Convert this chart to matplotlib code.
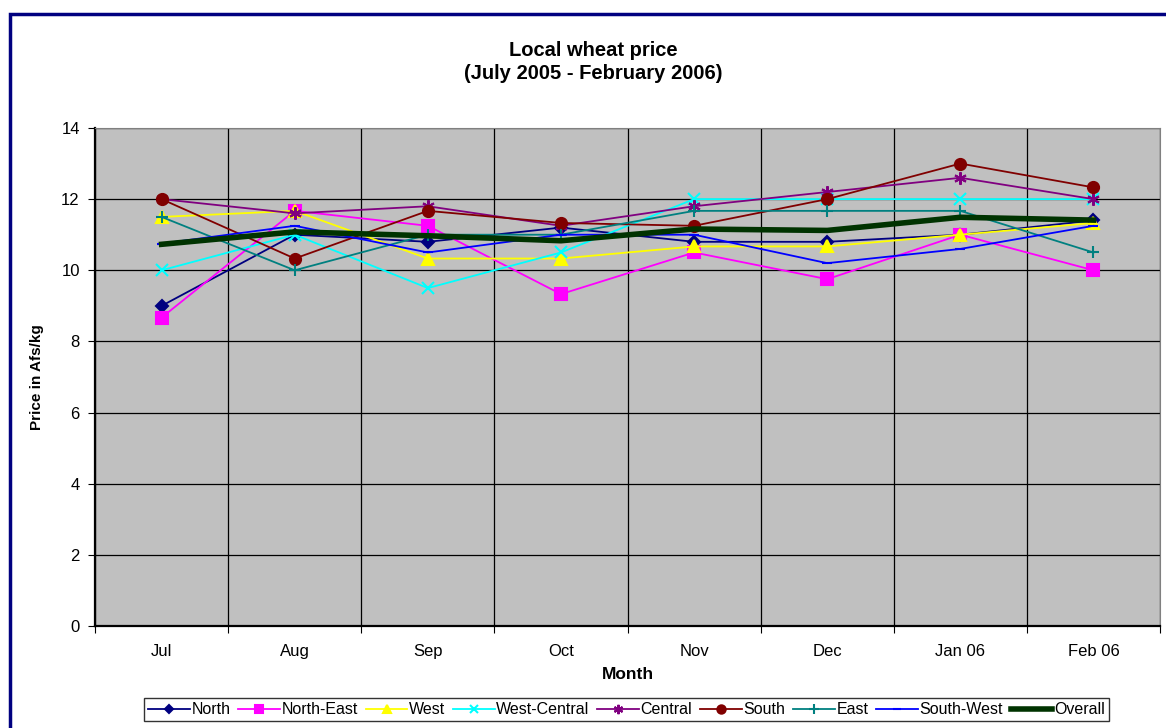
import numpy as np
import matplotlib
matplotlib.use("Agg")
import matplotlib.pyplot as plt
from matplotlib.patches import Rectangle

plt.rcParams['font.family'] = ['Liberation Sans', 'DejaVu Sans']

months = ['Jul', 'Aug', 'Sep', 'Oct', 'Nov', 'Dec', 'Jan 06', 'Feb 06']

north = [9.0, 11.0, 10.8, 11.2, 10.8, 10.8, 11.0, 11.4]
north_east = [8.67, 11.67, 11.25, 9.33, 10.5, 9.75, 11.0, 10.0]
west = [11.5, 11.67, 10.33, 10.33, 10.67, 10.67, 11.0, 11.33]
west_central = [10.0, 11.0, 9.5, 10.5, 12.0, 12.0, 12.0, 12.0]
central = [12.0, 11.6, 11.8, 11.25, 11.8, 12.2, 12.6, 12.0]
south = [12.0, 10.33, 11.67, 11.33, 11.25, 12.0, 13.0, 12.33]
east = [11.5, 10.0, 11.0, 11.0, 11.67, 11.67, 11.67, 10.5]
south_west = [10.75, 11.25, 10.5, 11.0, 11.0, 10.2, 10.6, 11.25]
overall = [10.73, 11.08, 10.97, 10.83, 11.16, 11.12, 11.49, 11.41]

# (label, values, colour, marker, marker size)
series = [
    ('North', north, '#000080', 'D', 6),
    ('North-East', north_east, '#FF00FF', 's', 8),
    ('West', west, '#FFFF00', '^', 8),
    ('West-Central', west_central, '#00FFFF', 'x', 8),
    ('Central', central, '#800080', (6, 2, 0), 9),
    ('South', south, '#800000', 'o', 8),
    ('East', east, '#008080', '+', 9),
    ('South-West', south_west, '#0000FF', '_', 7),
]

fig = plt.figure(figsize=(11.66, 7.28), dpi=100)
ax = fig.add_axes([0.0815, 0.1401, 0.9134, 0.6841])
ax.set_facecolor('#C0C0C0')

x = np.arange(len(months))
for label, vals, col, mk, ms in series:
    ax.plot(x, vals, color=col, marker=mk, markersize=ms, lw=1.3,
            markeredgewidth=1.5, label=label, zorder=3)
ax.plot(x, overall, color='#003300', lw=4, label='Overall', zorder=4)

ax.set_xlim(-0.5, len(months) - 0.5)
ax.set_ylim(0, 14)
ax.set_yticks(np.arange(0, 15, 2))
ax.set_xticks(np.arange(len(months) + 1) - 0.5)
ax.set_xticklabels([])
ax.set_xticks(x, minor=True)
ax.set_xticklabels(months, minor=True)
ax.tick_params(axis='x', which='minor', length=0, pad=13, labelsize=12)
ax.tick_params(axis='x', which='major', length=5, direction='out')
ax.tick_params(axis='y', length=5, direction='out', labelsize=12, pad=6)
ax.grid(True, which='major', color='black', lw=0.9)
ax.set_axisbelow(True)
for s in ['top', 'right']:
    ax.spines[s].set_color('#808080')
ax.spines['left'].set_linewidth(1.6)
ax.spines['bottom'].set_linewidth(1.6)

ax.set_xlabel('Month', fontsize=12.5, fontweight='bold', labelpad=6)
ax.set_ylabel('Price in Afs/kg', fontsize=11, fontweight='bold', labelpad=12)

fig.text(0.509, 0.931, 'Local wheat price', ha='center', va='center',
         fontsize=14.5, fontweight='bold')
fig.text(0.509, 0.899, '(July 2005 - February 2006)', ha='center', va='center',
         fontsize=14.5, fontweight='bold')

leg = ax.legend(loc='center', bbox_to_anchor=(0.499, -0.168), ncol=9,
                frameon=True, fancybox=False, fontsize=11.5, handlelength=2.6,
                handletextpad=0.1, columnspacing=0.5, borderpad=0.25,
                borderaxespad=0, markerscale=0.75)
leg.get_frame().set_edgecolor('black')
leg.get_frame().set_linewidth(1)

# outer chart border
fig.patches.append(Rectangle((10 / 1166, -0.1), 1.1, 0.1 + (728 - 14) / 728,
                             transform=fig.transFigure, fill=False,
                             edgecolor='#000080', lw=2.5))

fig.savefig('out.png', dpi=100)
